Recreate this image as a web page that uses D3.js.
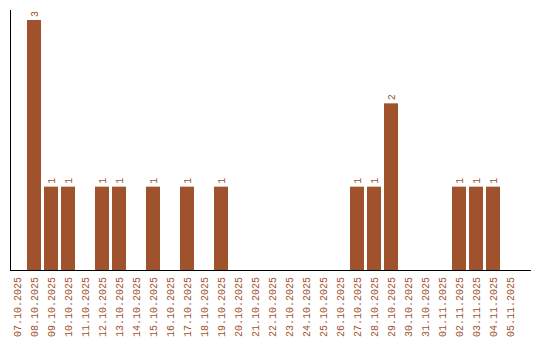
<!DOCTYPE html>
<html>
<head>
<meta charset="utf-8">
<script src="https://cdn.jsdelivr.net/npm/d3@7"></script>
<style>
  body { margin: 0; background: #fff; }
  text { font-family: "Liberation Mono", "Courier New", monospace; font-size: 10px; fill: #a0522d; }
</style>
</head>
<body>
<script>
// dates and counts
const dates = [
  '07.10.2025', '08.10.2025', '09.10.2025', '10.10.2025', '11.10.2025', '12.10.2025',
  '13.10.2025', '14.10.2025', '15.10.2025', '16.10.2025', '17.10.2025', '18.10.2025',
  '19.10.2025', '20.10.2025', '21.10.2025', '22.10.2025', '23.10.2025', '24.10.2025',
  '25.10.2025', '26.10.2025', '27.10.2025', '28.10.2025', '29.10.2025', '30.10.2025',
  '31.10.2025', '01.11.2025', '02.11.2025', '03.11.2025', '04.11.2025', '05.11.2025'
]
const counts = [
  0, 3, 1, 1, 0, 1,
  1, 0, 1, 0, 1, 0,
  1, 0, 0, 0, 0, 0,
  0, 0, 1, 1, 2, 0,
  0, 0, 1, 1, 1, 0
]

const WIDTH = 540
const HEIGHT = 340
const COLOR = '#a0522d'

const data = dates.map((d, i) => ({ date: d, value: counts[i] }))

const svg = d3.select('body')
  .append('svg')
  .attr('width', WIDTH)
  .attr('height', HEIGHT)

const x = d3.scaleBand()
  .domain(dates)
  .range([10, 520])
  .paddingInner(3 / 17)
  .paddingOuter(3 / 34)
  .align(0)

const y = d3.scaleLinear()
  .domain([0, d3.max(counts)])
  .range([270, 20])

svg.append('g')
  .selectAll('rect')
  .data(data.filter(d => d.value > 0))
  .enter()
  .append('rect')
  .attr('x', d => x(d.date))
  .attr('y', d => y(d.value))
  .attr('width', x.bandwidth())
  .attr('height', d => y(0) - y(d.value))
  .attr('fill', COLOR)

// value labels, rotated like the date labels
svg.append('g')
  .selectAll('text')
  .data(data.filter(d => d.value > 0))
  .enter()
  .append('text')
  .attr('transform', d => `translate(${x(d.date) + x.bandwidth() / 2},${y(d.value) - 3}) rotate(-90)`)
  .attr('dy', '0.35em')
  .attr('text-anchor', 'start')
  .text(d => d.value)

// date labels
svg.append('g')
  .selectAll('text')
  .data(dates)
  .enter()
  .append('text')
  .attr('transform', d => `translate(${x(d) + x.bandwidth() / 2},277) rotate(-90)`)
  .attr('dy', '0.35em')
  .attr('text-anchor', 'end')
  .text(d => d)

// axis lines
svg.append('line')
  .attr('x1', 10.5).attr('x2', 10.5)
  .attr('y1', 10).attr('y2', 270)
  .attr('stroke', 'black')
  .attr('stroke-width', 1)

svg.append('line')
  .attr('x1', 10).attr('x2', 531)
  .attr('y1', 270.5).attr('y2', 270.5)
  .attr('stroke', 'black')
  .attr('stroke-width', 1)
</script>
</body>
</html>
